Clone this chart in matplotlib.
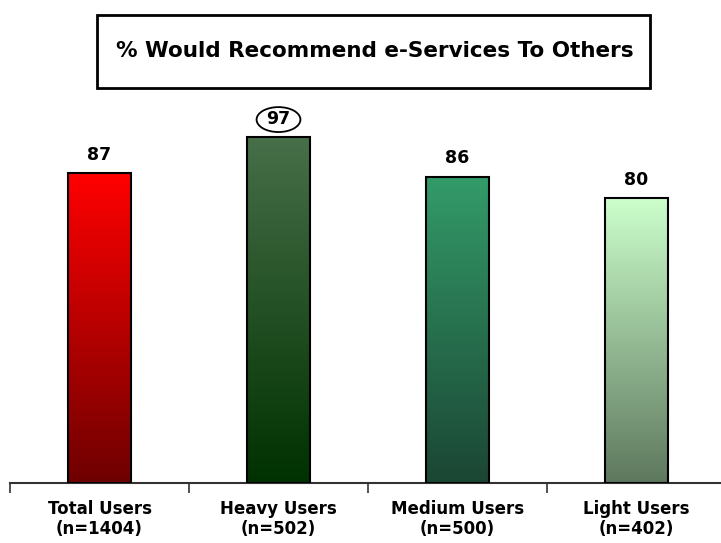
import matplotlib
matplotlib.use("Agg")
import matplotlib.pyplot as plt
import matplotlib.colors as mcolors
from matplotlib.patches import Rectangle, Ellipse
import numpy as np

# survey results
groups = ["Total Users", "Heavy Users", "Medium Users", "Light Users"]
sample_sizes = ["(n=1404)", "(n=502)", "(n=500)", "(n=402)"]
pct_recommend = [87, 97, 86, 80]
highlight = "Heavy Users"

# top -> bottom shading for each bar
top_colors = ["#ff0000", "#476f49", "#339b69", "#ccffcc"]
bottom_colors = ["#6e0000", "#003100", "#1b4634", "#5e785e"]

W, H = 721, 543
fig = plt.figure(figsize=(W / 100, H / 100), dpi=100)
plt.rcParams["font.family"] = ["DejaVu Sans"]

# axes placed in pixel terms: baseline at y=483, category slots 179px wide
base_y = 483
px_per_unit = 3.563
left_px, slot_px = 10, 179
ax = fig.add_axes([left_px / W, (H - base_y) / H,
                   slot_px * 4 / W, px_per_unit * 100 / H])
ax.set_xlim(-0.5, 3.5)
ax.set_ylim(0, 100)

x = np.arange(len(groups))
bars = ax.bar(x, pct_recommend, width=0.35, facecolor="none",
              edgecolor="black", linewidth=1.5, zorder=3)

grad = np.linspace(0, 1, 256).reshape(-1, 1)
for bar, top, bot in zip(bars, top_colors, bottom_colors):
    cmap = mcolors.LinearSegmentedColormap.from_list("g", [top, bot])
    x0, y0 = bar.get_x(), bar.get_y()
    im = ax.imshow(grad, cmap=cmap, aspect="auto", origin="upper",
                   extent=[x0, x0 + bar.get_width(), y0, y0 + bar.get_height()],
                   zorder=2)
    im.set_clip_path(bar)

for xi, v, g in zip(x, pct_recommend, groups):
    ax.text(xi, v + 2.6, str(v), ha="center", va="bottom",
            fontsize=12.5, fontweight="bold", zorder=4)
    if g == highlight:
        ax.add_patch(Ellipse((xi, v + 5.0), 0.245, 7.0, facecolor="none",
                             edgecolor="black", linewidth=1.3,
                             clip_on=False, zorder=4))

# axis styling: only the baseline with ticks between categories
for name, spine in ax.spines.items():
    spine.set_visible(name == "bottom")
ax.spines["bottom"].set_color("#333333")
ax.spines["bottom"].set_linewidth(1.5)
ax.set_yticks([])
ax.set_xticks(x)
ax.set_xticklabels([f"{g}\n{n}" for g, n in zip(groups, sample_sizes)],
                   fontsize=12, fontweight="bold", linespacing=1.15)
ax.tick_params(axis="x", which="major", length=0, pad=12)
ax.set_xticks(np.arange(-0.5, 3.5, 1), minor=True)
ax.tick_params(axis="x", which="minor", length=7, width=1.2, color="#333333",
               direction="out")

# boxed title
fig.patches.append(Rectangle((97 / W, 1 - 88 / H), (650 - 97) / W, 73 / H,
                             transform=fig.transFigure, facecolor="white",
                             edgecolor="black", linewidth=2))
fig.text(375 / W, 1 - 51 / H, "% Would Recommend e-Services To Others",
         ha="center", va="center", fontsize=15.5, fontweight="bold")

fig.savefig("out.png", dpi=100)
